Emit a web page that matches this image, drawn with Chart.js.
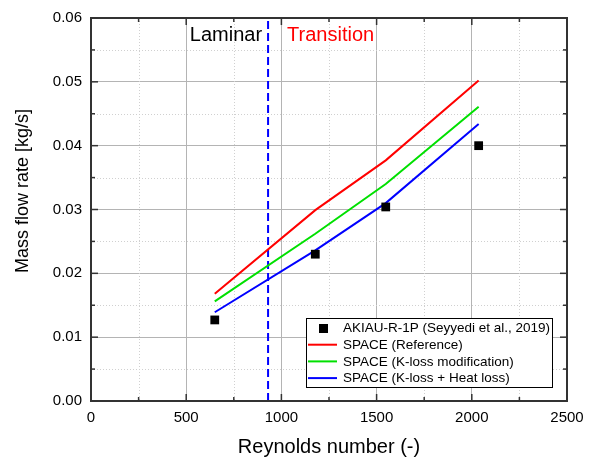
<!DOCTYPE html>
<html>
<head>
<meta charset="utf-8">
<script src="https://cdn.jsdelivr.net/npm/chart.js@4.4.1/dist/chart.umd.min.js"></script>
<style>
  html, body { margin: 0; padding: 0; background: #fff; }
  #wrap { width: 595px; height: 458px; }
</style>
</head>
<body>
<div id="wrap"><canvas id="myChart"></canvas></div>
<script>
// Reynolds numbers of the four cases
const reynolds = [650, 1178, 1548, 2036];
// measured mass flow rates (kg/s)
const experiment = [0.0127, 0.0230, 0.0304, 0.0400];
// SPACE calculations
const spaceReference = [0.0168, 0.0299, 0.0377, 0.0502];
const spaceKloss = [0.0156, 0.0262, 0.0340, 0.0461];
const spaceHeatloss = [0.0139, 0.0236, 0.0310, 0.0434];
// laminar / transition boundary
const boundaryRe = 930;

const xTicks = [0, 500, 1000, 1500, 2000, 2500];
const yTicks = [0, 0.01, 0.02, 0.03, 0.04, 0.05, 0.06];

const toPoints = (ys) => reynolds.map((x, i) => ({ x: x, y: ys[i] }));

const FONT = 'Liberation Sans, Arial, sans-serif';

// minor grid, inward ticks, frame, titles, region labels and legend box
const decorPlugin = {
  id: 'decor',
  beforeDatasetsDraw(chart) {
    const { ctx, chartArea: a, scales: { x, y } } = chart;
    ctx.save();
    ctx.strokeStyle = '#d0d0d0';
    ctx.lineWidth = 1;
    ctx.setLineDash([1, 2]);
    for (let i = 0; i < xTicks.length - 1; i++) {
      const px = Math.round(x.getPixelForValue((xTicks[i] + xTicks[i + 1]) / 2)) + 0.5;
      ctx.beginPath(); ctx.moveTo(px, a.top); ctx.lineTo(px, a.bottom); ctx.stroke();
    }
    for (let i = 0; i < yTicks.length - 1; i++) {
      const py = Math.round(y.getPixelForValue((yTicks[i] + yTicks[i + 1]) / 2)) + 0.5;
      ctx.beginPath(); ctx.moveTo(a.left, py); ctx.lineTo(a.right, py); ctx.stroke();
    }
    ctx.restore();
  },
  afterDatasetsDraw(chart) {
    const { ctx, chartArea: a, scales: { x, y } } = chart;
    ctx.save();
    // frame
    ctx.strokeStyle = '#333';
    ctx.lineWidth = 2;
    ctx.strokeRect(a.left, a.top, a.right - a.left, a.bottom - a.top);
    // tick marks pointing inward
    ctx.lineWidth = 1.5;
    const tick = (x1, y1, x2, y2) => { ctx.beginPath(); ctx.moveTo(x1, y1); ctx.lineTo(x2, y2); ctx.stroke(); };
    for (let i = 0; i < xTicks.length; i++) {
      const px = x.getPixelForValue(xTicks[i]);
      tick(px, a.bottom, px, a.bottom - 7);
      tick(px, a.top, px, a.top + 7);
      if (i < xTicks.length - 1) {
        const pm = x.getPixelForValue((xTicks[i] + xTicks[i + 1]) / 2);
        tick(pm, a.bottom, pm, a.bottom - 4);
        tick(pm, a.top, pm, a.top + 4);
      }
    }
    for (let i = 0; i < yTicks.length; i++) {
      const py = y.getPixelForValue(yTicks[i]);
      tick(a.left, py, a.left + 7, py);
      tick(a.right, py, a.right - 7, py);
      if (i < yTicks.length - 1) {
        const pm = y.getPixelForValue((yTicks[i] + yTicks[i + 1]) / 2);
        tick(a.left, pm, a.left + 4, pm);
        tick(a.right, pm, a.right - 4, pm);
      }
    }
    // axis titles
    ctx.fillStyle = '#000';
    ctx.textAlign = 'center';
    ctx.textBaseline = 'alphabetic';
    ctx.font = '20px ' + FONT;
    ctx.fillText('Reynolds number (-)', 329, 453);
    ctx.save();
    ctx.translate(23, 191);
    ctx.rotate(-Math.PI / 2);
    ctx.textBaseline = 'middle';
    ctx.font = '18px ' + FONT;
    ctx.fillText('Mass flow rate [kg/s]', 0, 0);
    ctx.restore();

    // region labels
    const bx = x.getPixelForValue(boundaryRe);
    const ty = a.top + 17;
    ctx.font = '20px ' + FONT;
    ctx.textBaseline = 'middle';
    ctx.fillStyle = '#000';
    ctx.textAlign = 'right';
    ctx.fillText('Laminar', bx - 6, ty);
    ctx.fillStyle = '#ff0000';
    ctx.textAlign = 'left';
    ctx.fillText('Transition', bx + 19, ty);

    // legend box
    const lx = 306, ly = 318, lw = 246, lh = 69;
    ctx.fillStyle = '#fff';
    ctx.fillRect(lx, ly, lw, lh);
    ctx.strokeStyle = '#000';
    ctx.lineWidth = 1;
    ctx.strokeRect(lx + 0.5, ly + 0.5, lw, lh);
    ctx.font = '13.5px ' + FONT;
    ctx.textAlign = 'left';
    ctx.textBaseline = 'middle';
    chart.data.datasets.forEach((ds, i) => {
      if (!ds.label) return;
      const rowY = ly + 10 + i * 16.7;
      if (ds.showLine === false) {
        ctx.fillStyle = '#000';
        ctx.fillRect(lx + 13, rowY - 4, 9, 9);
      } else {
        ctx.strokeStyle = ds.borderColor;
        ctx.lineWidth = 2;
        tick(lx + 2, rowY, lx + 31, rowY);
      }
      ctx.fillStyle = '#000';
      ctx.fillText(ds.label, lx + 37, rowY + 0.5);
    });
    ctx.restore();
  }
};

new Chart(document.getElementById('myChart'), {
  type: 'scatter',
  data: {
    datasets: [
      {
        label: 'AKIAU-R-1P (Seyyedi et al., 2019)',
        data: toPoints(experiment),
        showLine: false,
        pointStyle: 'rect',
        pointRadius: 6.2,
        backgroundColor: '#000',
        borderColor: '#000',
        borderWidth: 0
      },
      {
        label: 'SPACE (Reference)',
        data: toPoints(spaceReference),
        showLine: true,
        borderColor: '#ff0000',
        borderWidth: 2,
        pointRadius: 0
      },
      {
        label: 'SPACE (K-loss modification)',
        data: toPoints(spaceKloss),
        showLine: true,
        borderColor: '#00e000',
        borderWidth: 2,
        pointRadius: 0
      },
      {
        label: 'SPACE (K-loss + Heat loss)',
        data: toPoints(spaceHeatloss),
        showLine: true,
        borderColor: '#0000ff',
        borderWidth: 2,
        pointRadius: 0
      },
      {
        label: '',
        data: [{ x: boundaryRe, y: 0 }, { x: boundaryRe, y: 0.06 }],
        showLine: true,
        borderColor: '#0000ff',
        borderWidth: 2,
        borderDash: [8, 4],
        pointRadius: 0
      }
    ]
  },
  options: {
    responsive: true,
    maintainAspectRatio: false,
    animation: false,
    layout: { padding: { left: 0, right: 28, top: 17, bottom: 0 } },
    plugins: {
      legend: { display: false },
      tooltip: { enabled: false }
    },
    scales: {
      x: {
        type: 'linear',
        min: 0,
        max: 2500,
        afterBuildTicks: (scale) => { scale.ticks = xTicks.map(v => ({ value: v })); },
        afterFit: (scale) => { scale.height = 57; },
        grid: { color: '#b4b4b4', lineWidth: 1, drawTicks: false },
        border: { display: false },
        ticks: {
          color: '#000',
          padding: 8,
          font: { family: FONT, size: 15 },
          maxRotation: 0,
          callback: (v) => String(v)
        }
      },
      y: {
        min: 0,
        max: 0.06,
        afterBuildTicks: (scale) => { scale.ticks = yTicks.map(v => ({ value: v })); },
        afterFit: (scale) => { scale.width = 91; },
        grid: { color: '#b4b4b4', lineWidth: 1, drawTicks: false },
        border: { display: false },
        ticks: {
          color: '#000',
          padding: 9,
          font: { family: FONT, size: 15 },
          callback: (v) => v.toFixed(2)
        }
      }
    }
  },
  plugins: [decorPlugin]
});
</script>
</body>
</html>
